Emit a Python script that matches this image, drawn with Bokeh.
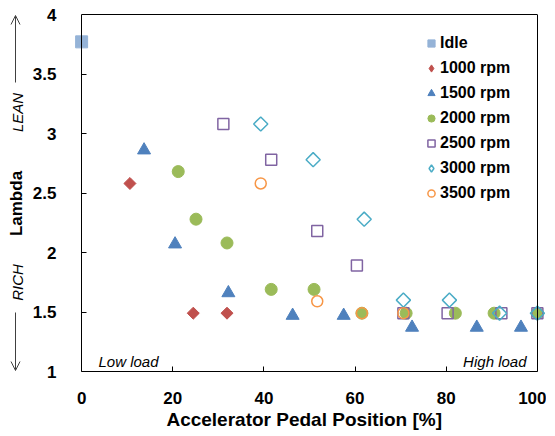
import math
from bokeh.plotting import figure
from bokeh.layouts import row
from bokeh.models import (Range1d, FixedTicker, Label, Arrow, OpenHead, Legend,
                          LegendItem, NumeralTickFormatter, LinearAxis)
from bokeh.embed import file_html
from bokeh.resources import INLINE

# ---- data ----
idle_x = [0]
idle_y = [3.77]

rpm1000_x = [10.6, 24.5, 31.9]
rpm1000_y = [2.58, 1.49, 1.49]

rpm1500_x = [13.7, 20.5, 32.2, 46.3, 57.5, 72.5, 86.7, 96.4]
rpm1500_y = [2.86, 2.07, 1.66, 1.47, 1.47, 1.37, 1.37, 1.37]

rpm2000_x = [21.2, 25.1, 31.9, 41.6, 51.0, 61.5, 71.2, 82.0, 90.5, 100]
rpm2000_y = [2.68, 2.28, 2.08, 1.69, 1.69, 1.49, 1.49, 1.49, 1.49, 1.49]

rpm2500_x = [31.1, 41.6, 51.7, 60.4, 70.6, 80.3, 92.1, 100]
rpm2500_y = [3.08, 2.78, 2.18, 1.89, 1.49, 1.49, 1.49, 1.49]

rpm3000_x = [39.3, 50.8, 62.0, 70.6, 80.7, 91.7, 100]
rpm3000_y = [3.08, 2.78, 2.28, 1.60, 1.60, 1.49, 1.49]

rpm3500_x = [39.3, 51.7, 61.5, 70.6]
rpm3500_y = [2.58, 1.59, 1.49, 1.49]

series_labels = ["Idle", "1000 rpm", "1500 rpm", "2000 rpm", "2500 rpm", "3000 rpm", "3500 rpm"]
x_ticks = [0, 20, 40, 60, 80, 100]
y_ticks = [1, 1.5, 2, 2.5, 3, 3.5, 4]
x_title = "Accelerator Pedal Position   [%]"
y_title = "Lambda"

FONT = "Liberation Sans"
TOP, FRAME_H, BOTTOM = 14, 357, 64
SIDE_W = 27

# ---------------- main chart ----------------
p = figure(frame_width=474, frame_height=FRAME_H,
           x_range=Range1d(-2, 102), y_range=Range1d(1, 4),
           output_backend="svg", toolbar_location=None,
           min_border_left=45, min_border_right=0, min_border_top=TOP,
           min_border_bottom=BOTTOM)
p.xgrid.visible = False
p.ygrid.visible = False
p.outline_line_color = None
p.background_fill_color = "white"
p.border_fill_color = "white"

# bottom axis (at y = 1, limited to 0..100)
p.xaxis.ticker = FixedTicker(ticks=x_ticks)
p.xaxis.bounds = (0, 100)
p.xaxis.axis_label = x_title
# left axis: only the tick labels (the axis line itself is drawn at x = 0 below)
p.yaxis.ticker = FixedTicker(ticks=y_ticks)
p.yaxis.formatter = NumeralTickFormatter(format="0.[0]")
p.yaxis.axis_line_color = None
p.yaxis.major_tick_line_color = None
for ax in (p.xaxis[0], p.yaxis[0]):
    ax.minor_tick_line_color = None
    ax.major_label_text_font = FONT
    ax.major_label_text_font_style = "bold"
    ax.major_label_text_font_size = "17px"
    ax.major_label_text_color = "black"
    ax.axis_label_text_font = FONT
    ax.axis_label_text_font_style = "bold"
    ax.axis_label_text_font_size = "19px"
    ax.axis_label_text_color = "black"
p.xaxis.axis_line_color = "black"
p.xaxis.major_tick_line_color = "black"
p.xaxis.major_tick_in = 5
p.xaxis.major_tick_out = 0
p.xaxis.major_label_standoff = 20
p.xaxis.axis_label_standoff = 2
p.yaxis.major_label_standoff = 10

# y axis line with inward ticks at x = 0
y_line = LinearAxis(ticker=FixedTicker(ticks=y_ticks), fixed_location=0,
                    axis_line_color="black", major_tick_line_color="black",
                    major_tick_in=0, major_tick_out=5, minor_tick_line_color=None,
                    major_label_text_font_size="0px", major_label_text_color=None,
                    major_label_standoff=0)
# plain top and right borders of the plot box
top_axis = LinearAxis(ticker=FixedTicker(ticks=[]), bounds=(0, 100),
                      axis_line_color="black", major_tick_line_color=None,
                      minor_tick_line_color=None)
right_axis = LinearAxis(ticker=FixedTicker(ticks=[]), fixed_location=100,
                        axis_line_color="black", major_tick_line_color=None,
                        minor_tick_line_color=None)
p.add_layout(y_line, "right")
p.add_layout(top_axis, "above")
p.add_layout(right_axis, "right")

r_idle = p.scatter(idle_x, idle_y, marker="square", size=12,
                   fill_color="#95B3D7", line_color="#95B3D7")
r1000 = p.scatter(rpm1000_x, rpm1000_y, marker="square", angle=math.pi / 4, size=8.5,
                  fill_color="#C0504D", line_color="#C0504D")
r1500 = p.scatter(rpm1500_x, rpm1500_y, marker="triangle", size=13,
                  fill_color="#4F81BD", line_color="#4F81BD")
r2000 = p.scatter(rpm2000_x, rpm2000_y, marker="circle", size=12,
                  fill_color="#9BBB59", line_color="#9BBB59")
r2500 = p.scatter(rpm2500_x, rpm2500_y, marker="square", size=11,
                  fill_color=None, line_color="#8064A2", line_width=1.5)
r3000 = p.scatter(rpm3000_x, rpm3000_y, marker="square", angle=math.pi / 4, size=10,
                  fill_color=None, line_color="#4BACC6", line_width=1.5)
r3500 = p.scatter(rpm3500_x, rpm3500_y, marker="circle", size=11,
                  fill_color=None, line_color="#F79646", line_width=1.5)

# legend swatches for the diamond series (same data, not drawn in the plot)
l1000 = p.scatter(rpm1000_x, rpm1000_y, marker="diamond", size=10,
                  fill_color="#C0504D", line_color="#C0504D", visible=False)
l3000 = p.scatter(rpm3000_x, rpm3000_y, marker="diamond", size=10,
                  fill_color=None, line_color="#4BACC6", line_width=1.5, visible=False)

legend_renderers = [r_idle, l1000, r1500, r2000, r2500, l3000, r3500]
legend = Legend(items=[LegendItem(label=l, renderers=[r])
                       for l, r in zip(series_labels, legend_renderers)],
                location="top_right", margin=0, padding=19, spacing=5,
                glyph_width=18, glyph_height=20, label_standoff=0,
                label_width=87, label_height=20,
                border_line_color="white", border_line_alpha=0,
                background_fill_alpha=0, inactive_fill_alpha=0,
                label_text_font=FONT, label_text_font_style="bold",
                label_text_font_size="16px", label_text_color="black")
p.add_layout(legend)

ital = dict(text_font=FONT, text_font_style="italic", text_font_size="15px",
            text_color="black", x_units="screen", y_units="screen")
p.add_layout(Label(x=26, y=10.5, text="Low load", text_align="left",
                   text_baseline="middle", **ital))
p.add_layout(Label(x=454, y=10.5, text="High load", text_align="right",
                   text_baseline="middle", **ital))

# ---------------- left strip: Lambda / LEAN / RICH with arrows ----------------
side = figure(frame_width=SIDE_W, frame_height=FRAME_H, x_range=Range1d(0, 1),
              y_range=Range1d(0, 1), output_backend="svg", toolbar_location=None,
              x_axis_location=None, y_axis_location=None,
              min_border_left=0, min_border_right=0,
              min_border_top=TOP, min_border_bottom=BOTTOM)
side.xgrid.visible = False
side.ygrid.visible = False
side.outline_line_color = None
side.background_fill_color = "white"
side.border_fill_color = "white"

FB = TOP + FRAME_H   # page y of the frame bottom


def sy(page_y):
    return FB - page_y


side.add_layout(Label(x=15.5, y=sy(203), text=y_title, angle=math.pi / 2,
                      text_align="center", text_baseline="middle",
                      text_font=FONT, text_font_style="bold", text_font_size="17px",
                      text_color="black", x_units="screen", y_units="screen"))
side.add_layout(Label(x=17, y=sy(112), text="LEAN", angle=math.pi / 2,
                      text_align="center", text_baseline="middle", **ital))
side.add_layout(Label(x=17, y=sy(282), text="RICH", angle=math.pi / 2,
                      text_align="center", text_baseline="middle", **ital))

arrow_col = "#404040"
side.add_layout(Arrow(x_start=15, y_start=sy(82), x_end=15, y_end=sy(15),
                      start_units="screen", end_units="screen",
                      line_color=arrow_col, line_width=1,
                      end=OpenHead(size=9, line_color=arrow_col, line_width=1)))
side.add_layout(Arrow(x_start=15, y_start=sy(312), x_end=15, y_end=sy(370),
                      start_units="screen", end_units="screen",
                      line_color=arrow_col, line_width=1,
                      end=OpenHead(size=9, line_color=arrow_col, line_width=1)))

layout = row(side, p, spacing=0)
open("out.html", "w").write(file_html(layout, INLINE))
